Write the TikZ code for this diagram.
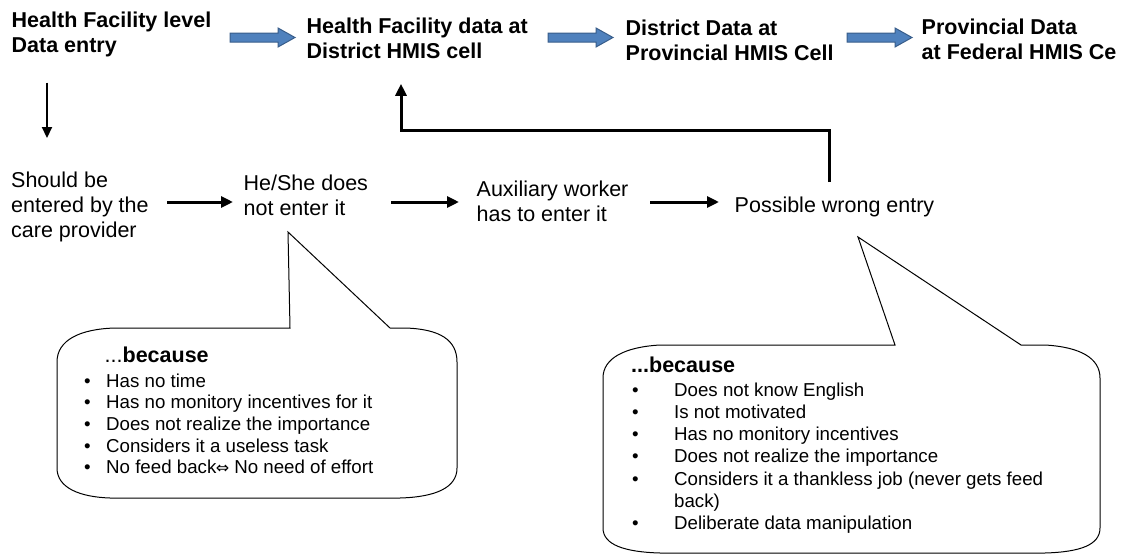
\documentclass[tikz,border=0pt]{standalone}
\usepackage{fontspec}
\setmainfont{Liberation Sans}
\newfontfamily\symf{DejaVu Sans}
\usetikzlibrary{arrows.meta}
\definecolor{arrowblue}{HTML}{4F81BD}
\definecolor{arrowedge}{HTML}{385D8A}
\newcommand\blt[1]{\makebox[#1pt][l]{•}}
\begin{document}
\begin{tikzpicture}[x=1pt,y=-1pt,
  hdr/.style={anchor=north west, inner sep=0pt, align=left, font=\fontsize{21.5}{25}\selectfont\bfseries},
  txt/.style={anchor=north west, inner sep=0pt, align=left, font=\fontsize{21.5}{25}\selectfont},
  lsta/.style={anchor=north west, inner sep=0pt, align=left, font=\fontsize{18.7}{21.6}\selectfont},
  lstb/.style={anchor=north west, inner sep=0pt, align=left, font=\fontsize{18.7}{22.2}\selectfont},
  blockarrow/.style={draw=arrowedge, fill=arrowblue, line width=1pt, line join=miter},
  arr/.style={line width=3pt, -{Triangle[length=12pt,width=11pt]}},
  arrthin/.style={line width=2.2pt, -{Triangle[length=11pt,width=10pt]}},
  bubble/.style={draw=black, line width=1pt, line join=miter}
]
\useasboundingbox (0,0) rectangle (1128,557);

% top row
\node[hdr] (n1) at (11.5,11.6) {Health Facility level\\Data entry};
\node[hdr] (n2) at (306.5,17.6) {Health Facility data at\\District HMIS cell};
\node[hdr] (n3) at (625.5,19.6) {District Data at\\Provincial HMIS Cell};
\node[hdr] (n4) at (921.5,18.6) {Provincial Data\\at Federal HMIS Ce};

% block arrows between the top-row texts
\foreach \s in {230,548,847}{
  \draw[blockarrow] (\s,33) -- ++(48,0) -- ++(0,-5) -- ++(17,9.5) -- ++(-17,9.5) -- ++(0,-5) -- ++(-48,0) -- cycle;
}

% middle row
\node[txt] (m1) at (11,171.6) {Should be\\entered by the\\care provider};
\node[txt] (m2) at (243.5,174.6) {He/She does\\not enter it};
\node[txt] (m3) at (476.5,180.6) {Auxiliary worker\\has to enter it};
\node[txt] (m4) at (734.5,196.6) {Possible wrong entry};

\coordinate (row) at (0,202);
\draw[arr] ([xshift=18.6pt]m1.east |- row) -- ([xshift=-10.5pt]m2.west |- row);
\draw[arr] ([xshift=23pt]m2.east |- row) -- ([xshift=-17.5pt]m3.west |- row);
\draw[arr] ([xshift=21.8pt]m3.east |- row) -- ([xshift=-15.5pt]m4.west |- row);

\coordinate (dcol) at (47,0);
\draw[arrthin] ([yshift=-25.5pt]n1.south -| dcol) -- ([yshift=33.6pt]m1.north -| dcol);

\coordinate (fb1) at (829,130);
\coordinate (fb2) at (401,130);
\draw[arr, line join=miter] ([yshift=14.6pt]m4.north -| fb1) -- (fb1) -- (fb2) -- ([yshift=-25pt]n2.south -| fb2);

% bubbles
\draw[bubble] (290,328) -- (288,232) -- (390,328) -- (405,328)
  .. controls (440,329) and (457,340) .. (457,362) -- (457,468)
  .. controls (457,488) and (435,497) .. (400,498) -- (110,498)
  .. controls (80,497) and (57,488) .. (57,468) -- (57,362)
  .. controls (57,340) and (80,329) .. (115,328) -- cycle;

\draw[bubble] (895,345) -- (858,237) -- (1021,345) -- (1045,345)
  .. controls (1080,347) and (1100,358) .. (1100,378) -- (1100,528)
  .. controls (1100,545) and (1080,552) .. (1045,553) -- (660,553)
  .. controls (625,552) and (603,545) .. (603,528) -- (603,378)
  .. controls (603,358) and (625,347) .. (660,345) -- cycle;

\node[txt] (b1h) at (104.5,346.6) {...\textbf{because}};
\node[lsta] (b1l) at (84,373.6) {\blt{22}Has no time\\
  \blt{22}Has no monitory incentives for it\\
  \blt{22}Does not realize the importance\\
  \blt{22}Considers it a useless task\\
  \blt{22}No feed back\kern-0.5pt{\symf\fontsize{16}{20}\selectfont ⇔}\kern5pt No need of effort};

\node[hdr] (b2h) at (631,356.6) {...because};
\node[lstb] (b2l) at (632,382.6) {\blt{42}Does not know English\\
  \blt{42}Is not motivated\\
  \blt{42}Has no monitory incentives\\
  \blt{42}Does not realize the importance\\
  \blt{42}Considers it a thankless job (never gets feed\\
  \hspace*{42pt}back)\\
  \blt{42}Deliberate data manipulation};
\end{tikzpicture}
\end{document}
